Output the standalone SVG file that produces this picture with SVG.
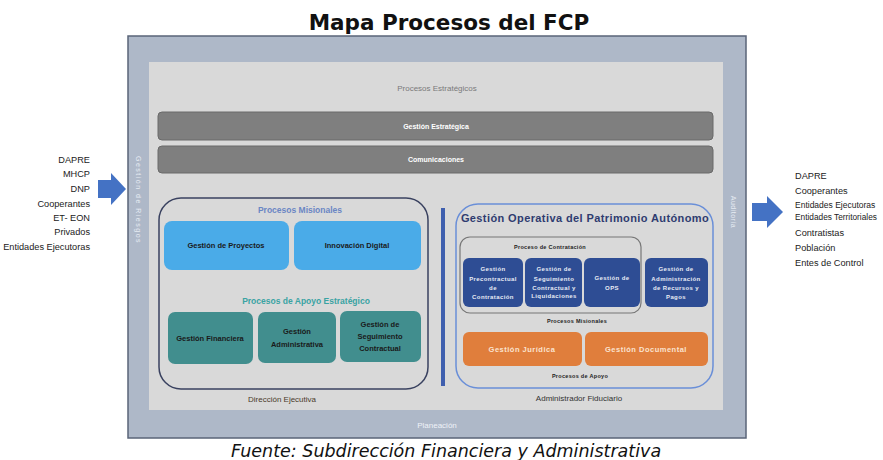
<svg xmlns="http://www.w3.org/2000/svg" width="883" height="460" viewBox="0 0 883 460">
<style>
text{font-family:"Liberation Sans",Arial,sans-serif}
text.dv{font-family:"DejaVu Sans",Verdana,sans-serif}
.side{font-size:9.2px;fill:#222}
.sm{font-size:7px;fill:#fff;font-weight:bold;text-anchor:middle}
.lbl{font-size:7.5px;font-weight:bold;fill:#1a1a1a;text-anchor:middle}
.db{fill:#2e4d94}
.db-t{font-size:6px;font-weight:bold;fill:#e8ecf5;text-anchor:middle;letter-spacing:0.4px}
.tiny{font-size:5.5px;font-weight:bold;fill:#222;text-anchor:middle;letter-spacing:0.3px}
.blue{fill:#4aabe8}
.teal{fill:#418e8e}
.org{fill:#e07e3c}
.gbar{fill:#7f7f7f;stroke:#6a6a6a;stroke-width:1}
.arrow{fill:#4472c4}
</style>
<rect width="883" height="460" fill="#fff"/>
<text class="dv" x="449" y="30" text-anchor="middle" font-weight="bold" font-size="21.5" fill="#111">Mapa Procesos del FCP</text>

<g id="frame">
<rect x="128" y="36" width="618" height="402" fill="#aeb8c8" stroke="#5a6478" stroke-width="1.5"/>
<rect x="149" y="62" width="574" height="348" fill="#d9d9d9"/>
<text x="437" y="428" text-anchor="middle" font-size="8" fill="#eef2f8">Planeación</text>
<text transform="translate(136,200) rotate(90)" text-anchor="middle" font-size="7" fill="#e6ebf3" letter-spacing="1.5">Gestión de Riesgos</text>
<text transform="translate(731,212) rotate(90)" text-anchor="middle" font-size="7" fill="#e6ebf3" letter-spacing="0.5">Auditoría</text>
<text x="437" y="91" text-anchor="middle" font-size="8" fill="#7a7a7a">Procesos Estratégicos</text>
</g>

<g id="inputs">
<text class="side" x="90" y="163" text-anchor="end">DAPRE</text>
<text class="side" x="90" y="177" text-anchor="end">MHCP</text>
<text class="side" x="90" y="192" text-anchor="end">DNP</text>
<text class="side" x="90" y="207" text-anchor="end">Cooperantes</text>
<text class="side" x="90" y="221" text-anchor="end">ET- EON</text>
<text class="side" x="90" y="235" text-anchor="end">Privados</text>
<text class="side" x="90" y="250" text-anchor="end" font-size="8.5">Entidades Ejecutoras</text>
</g>
<g id="outputs">
<text class="side" x="795" y="179">DAPRE</text>
<text class="side" x="795" y="194">Cooperantes</text>
<text class="side" x="795" y="208" style="font-size:8.5px">Entidades Ejecutoras</text>
<text class="side" x="795" y="220" style="font-size:8.3px">Entidades Territoriales</text>
<text class="side" x="795" y="236">Contratistas</text>
<text class="side" x="795" y="251">Población</text>
<text class="side" x="795" y="266">Entes de Control</text>
</g>

<g id="connectors">
<polygon class="arrow" points="98,180 111,180 111,173 126,189 111,205 111,198 98,198"/>
<polygon class="arrow" points="752,203 767,203 767,196 783,212 767,228 767,221 752,221"/>
<rect x="441" y="208" width="4" height="178" fill="#3f5fae"/>
</g>

<g id="gestion-estrategica">
<rect class="gbar" x="158" y="112" width="555" height="28" rx="4"/>
<text class="sm" x="436" y="129">Gestión Estratégica</text>
</g>
<g id="comunicaciones">
<rect class="gbar" x="158" y="146" width="555" height="27" rx="4"/>
<text class="sm" x="436" y="162">Comunicaciones</text>
</g>

<g id="direccion-ejecutiva">
<rect x="159" y="198" width="269" height="191" rx="22" fill="none" stroke="#3a4260" stroke-width="1.5"/>
<text x="300" y="213" text-anchor="middle" font-size="8.5" font-weight="bold" fill="#6a86c4">Procesos Misionales</text>
<text x="306" y="304" text-anchor="middle" font-size="8.5" font-weight="bold" fill="#3aa3a3">Procesos de Apoyo  Estratégico</text>
<text x="282" y="402" text-anchor="middle" font-size="8" fill="#4a3a2a">Dirección Ejecutiva</text>
</g>
<g id="gestion-proyectos">
<rect class="blue" x="164" y="221" width="125" height="49" rx="8"/>
<text class="lbl" x="226" y="248">Gestión de Proyectos</text>
</g>
<g id="innovacion-digital">
<rect class="blue" x="294" y="221" width="127" height="49" rx="8"/>
<text class="lbl" x="357" y="248">Innovación Digital</text>
</g>
<g id="gestion-financiera">
<rect class="teal" x="168" y="312" width="85" height="52" rx="7"/>
<text class="lbl" x="210" y="341">Gestión Financiera</text>
</g>
<g id="gestion-administrativa">
<rect class="teal" x="258" y="312" width="78" height="51" rx="7"/>
<text class="lbl" x="297" y="334">Gestión</text>
<text class="lbl" x="297" y="347">Administrativa</text>
</g>
<g id="gestion-seguimiento">
<rect class="teal" x="340" y="311" width="81" height="51" rx="7"/>
<text class="lbl" x="380" y="327">Gestión de</text>
<text class="lbl" x="380" y="339">Seguimiento</text>
<text class="lbl" x="380" y="351">Contractual</text>
</g>

<g id="administrador-fiduciario">
<rect x="456" y="204" width="257" height="184" rx="22" fill="none" stroke="#6a8fd8" stroke-width="1.5"/>
<text x="585" y="222" text-anchor="middle" font-size="11" font-weight="bold" fill="#2f3c70" letter-spacing="0.4">Gestión Operativa del Patrimonio Autónomo</text>
<text x="579" y="401" text-anchor="middle" font-size="8" fill="#333">Administrador Fiduciario</text>
<text class="tiny" x="577" y="323">Procesos Misionales</text>
<text class="tiny" x="580" y="378">Procesos de Apoyo</text>
</g>
<g id="proceso-contratacion">
<rect x="460" y="237" width="181" height="76" rx="10" fill="none" stroke="#777" stroke-width="1.2"/>
<text class="tiny" x="550" y="249">Proceso de Contratación</text>
</g>
<g id="gestion-precontractual">
<rect class="db" x="463" y="258" width="60" height="49" rx="6"/>
<text class="db-t" x="493" y="271">Gestión</text>
<text class="db-t" x="493" y="281">Precontractual</text>
<text class="db-t" x="493" y="290">de</text>
<text class="db-t" x="493" y="299">Contratación</text>
</g>
<g id="gestion-seguimiento-liquidaciones">
<rect class="db" x="525" y="258" width="57" height="49" rx="6"/>
<text class="db-t" x="554" y="271">Gestión de</text>
<text class="db-t" x="554" y="281">Seguimiento</text>
<text class="db-t" x="554" y="290">Contractual y</text>
<text class="db-t" x="554" y="298">Liquidaciones</text>
</g>
<g id="gestion-ops">
<rect class="db" x="584" y="258" width="56" height="49" rx="6"/>
<text class="db-t" x="612" y="280">Gestión de</text>
<text class="db-t" x="612" y="290">OPS</text>
</g>
<g id="gestion-recursos">
<rect class="db" x="645" y="258" width="63" height="49" rx="6"/>
<text class="db-t" x="676" y="271">Gestión de</text>
<text class="db-t" x="676" y="281">Administración</text>
<text class="db-t" x="676" y="290">de Recursos y</text>
<text class="db-t" x="676" y="299">Pagos</text>
</g>
<g id="gestion-juridica">
<rect class="org" x="463" y="332" width="119" height="34" rx="6"/>
<text x="522" y="352" text-anchor="middle" font-size="7.5" font-weight="bold" fill="#fbe3d0" letter-spacing="0.5">Gestión Jurídica</text>
</g>
<g id="gestion-documental">
<rect class="org" x="585" y="332" width="123" height="34" rx="6"/>
<text x="646" y="352" text-anchor="middle" font-size="7.5" font-weight="bold" fill="#fbe3d0" letter-spacing="0.5">Gestión Documental</text>
</g>

<text class="dv" x="446" y="457" text-anchor="middle" font-style="italic" font-size="17.5" fill="#111">Fuente: Subdirección Financiera y Administrativa</text>
</svg>
